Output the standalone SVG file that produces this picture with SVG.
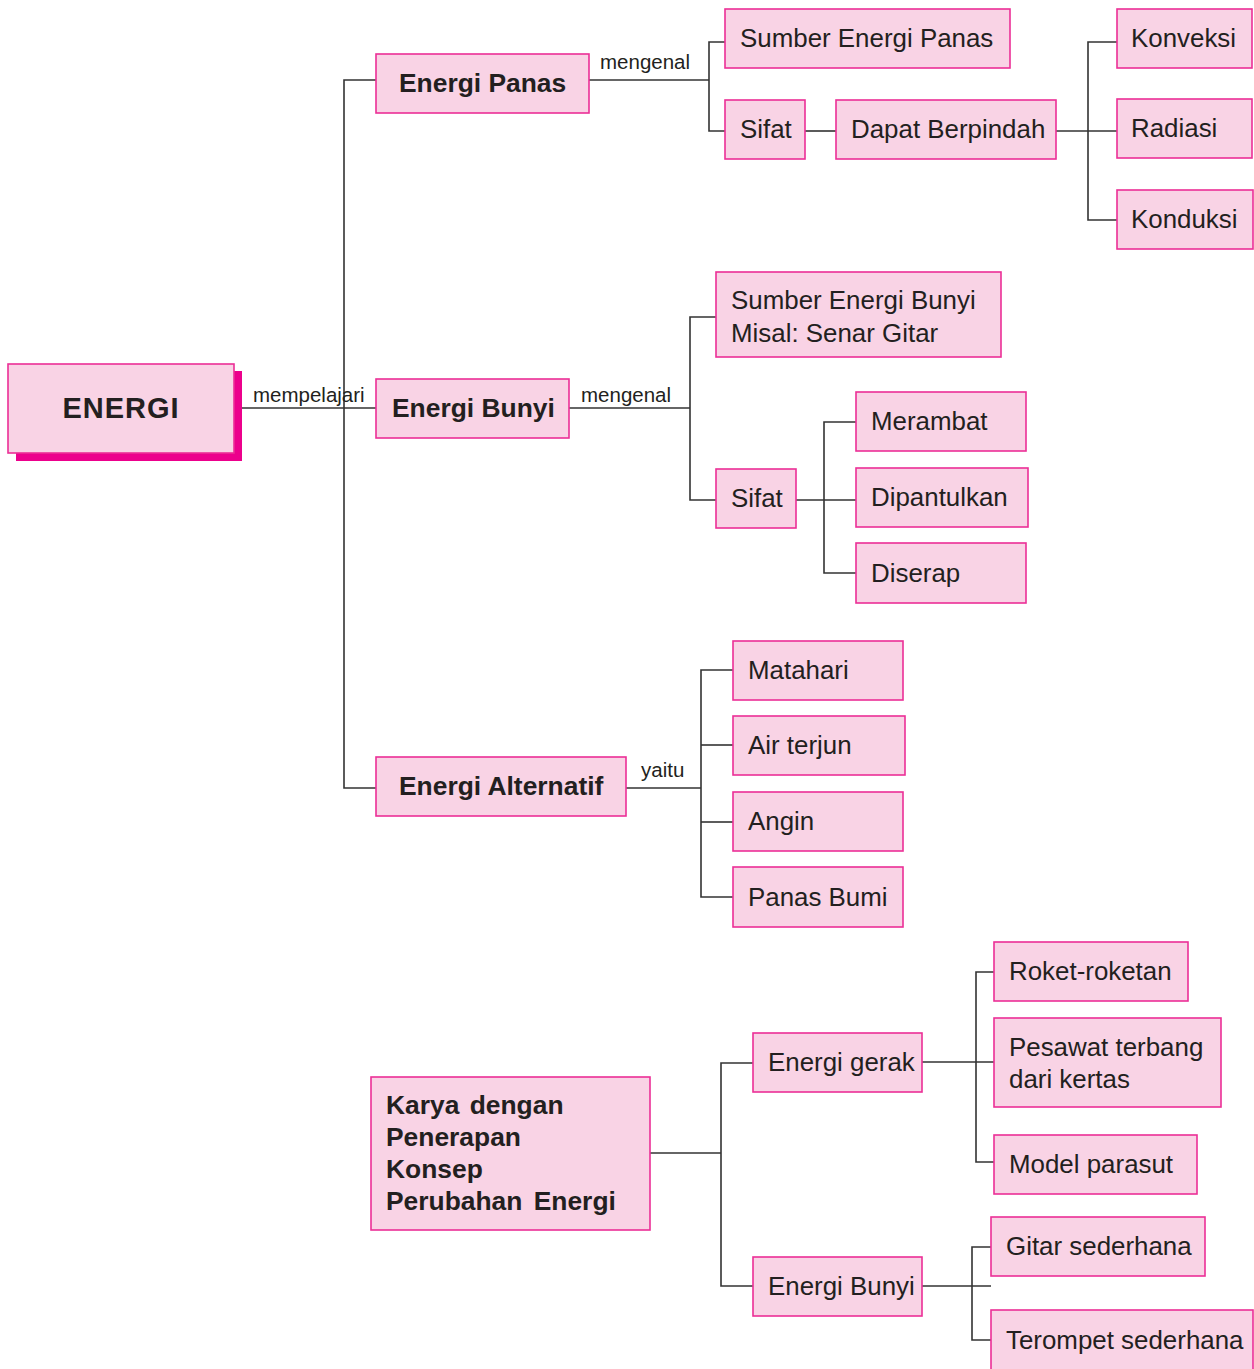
<svg xmlns="http://www.w3.org/2000/svg" width="1254" height="1369" viewBox="0 0 1254 1369">
  <style>
    .box { fill: #f9d3e5; stroke: #ec2f96; stroke-width: 1.6; }
    .shadow { fill: #ec008c; }
    .line { fill: none; stroke: #333333; stroke-width: 1.6; }
    text { font-family: "Liberation Sans", Arial, sans-serif; fill: #231f20; }
    .t { font-size: 25.9px; }
    .b { font-size: 26.4px; font-weight: bold; }
    .lbl { font-size: 20.5px; }
  </style>
  <rect width="1254" height="1369" fill="#ffffff"/>

  <!-- connectors -->
  <g id="connectors" class="line">
    <path d="M242 408 H376"/>
    <path d="M376 80 H344 V788 H376"/>
    <path d="M589 80 H709"/>
    <path d="M725 42 H709 V131 H725"/>
    <path d="M805 131 H836"/>
    <path d="M1056 131 H1117"/>
    <path d="M1117 42 H1088 V220 H1117"/>
    <path d="M569 408 H690"/>
    <path d="M716 317 H690 V500 H716"/>
    <path d="M796 500 H856"/>
    <path d="M856 422 H824 V573 H856"/>
    <path d="M626 788 H701"/>
    <path d="M733 670 H701 V897 H733"/>
    <path d="M701 745 H733"/>
    <path d="M701 822 H733"/>
    <path d="M650 1153 H721"/>
    <path d="M753 1063 H721 V1286 H753"/>
    <path d="M922 1062 H994"/>
    <path d="M994 972 H976 V1162 H994"/>
    <path d="M922 1286 H991"/>
    <path d="M991 1247 H972 V1340 H991"/>
  </g>

  <!-- connector labels -->
  <g id="labels">
    <text class="lbl" x="253" y="402">mempelajari</text>
    <text class="lbl" x="600" y="69">mengenal</text>
    <text class="lbl" x="581" y="402">mengenal</text>
    <text class="lbl" x="641" y="777">yaitu</text>
  </g>

  <!-- root -->
  <g id="energi">
    <rect class="shadow" x="16" y="371" width="226" height="90"/>
    <rect class="box" x="8" y="364" width="226" height="89"/>
    <text x="121" y="418" font-size="29" font-weight="bold" text-anchor="middle" letter-spacing="1">ENERGI</text>
  </g>

  <!-- Energi Panas branch -->
  <g id="energi-panas">
    <rect class="box" x="376" y="54" width="213" height="59"/>
    <text class="b" x="399" y="92">Energi Panas</text>
  </g>
  <g id="sumber-energi-panas">
    <rect class="box" x="725" y="9" width="285" height="59"/>
    <text class="t" x="740" y="47">Sumber Energi Panas</text>
  </g>
  <g id="sifat-panas">
    <rect class="box" x="725" y="100" width="80" height="59"/>
    <text class="t" x="740" y="138">Sifat</text>
  </g>
  <g id="dapat-berpindah">
    <rect class="box" x="836" y="100" width="220" height="59"/>
    <text class="t" x="851" y="138">Dapat Berpindah</text>
  </g>
  <g id="konveksi">
    <rect class="box" x="1117" y="9" width="135" height="59"/>
    <text class="t" x="1131" y="47">Konveksi</text>
  </g>
  <g id="radiasi">
    <rect class="box" x="1117" y="99" width="135" height="59"/>
    <text class="t" x="1131" y="137">Radiasi</text>
  </g>
  <g id="konduksi">
    <rect class="box" x="1117" y="190" width="136" height="59"/>
    <text class="t" x="1131" y="228">Konduksi</text>
  </g>

  <!-- Energi Bunyi branch -->
  <g id="energi-bunyi">
    <rect class="box" x="376" y="379" width="193" height="59"/>
    <text class="b" x="392" y="417">Energi Bunyi</text>
  </g>
  <g id="sumber-energi-bunyi">
    <rect class="box" x="716" y="272" width="285" height="85"/>
    <text class="t" x="731" y="309">Sumber Energi Bunyi</text>
    <text class="t" x="731" y="342">Misal: Senar Gitar</text>
  </g>
  <g id="sifat-bunyi">
    <rect class="box" x="716" y="469" width="80" height="59"/>
    <text class="t" x="731" y="507">Sifat</text>
  </g>
  <g id="merambat">
    <rect class="box" x="856" y="392" width="170" height="59"/>
    <text class="t" x="871" y="430">Merambat</text>
  </g>
  <g id="dipantulkan">
    <rect class="box" x="856" y="468" width="172" height="59"/>
    <text class="t" x="871" y="506">Dipantulkan</text>
  </g>
  <g id="diserap">
    <rect class="box" x="856" y="543" width="170" height="60"/>
    <text class="t" x="871" y="582">Diserap</text>
  </g>

  <!-- Energi Alternatif branch -->
  <g id="energi-alternatif">
    <rect class="box" x="376" y="757" width="250" height="59"/>
    <text class="b" x="399" y="795">Energi Alternatif</text>
  </g>
  <g id="matahari">
    <rect class="box" x="733" y="641" width="170" height="59"/>
    <text class="t" x="748" y="679">Matahari</text>
  </g>
  <g id="air-terjun">
    <rect class="box" x="733" y="716" width="172" height="59"/>
    <text class="t" x="748" y="754">Air terjun</text>
  </g>
  <g id="angin">
    <rect class="box" x="733" y="792" width="170" height="59"/>
    <text class="t" x="748" y="830">Angin</text>
  </g>
  <g id="panas-bumi">
    <rect class="box" x="733" y="867" width="170" height="60"/>
    <text class="t" x="748" y="906">Panas Bumi</text>
  </g>

  <!-- Karya tree -->
  <g id="karya">
    <rect class="box" x="371" y="1077" width="279" height="153"/>
    <text class="b" x="386" y="1114" word-spacing="3">Karya dengan</text>
    <text class="b" x="386" y="1146">Penerapan</text>
    <text class="b" x="386" y="1178">Konsep</text>
    <text class="b" x="386" y="1210" word-spacing="4">Perubahan Energi</text>
  </g>
  <g id="energi-gerak">
    <rect class="box" x="753" y="1033" width="169" height="59"/>
    <text class="t" x="768" y="1071">Energi gerak</text>
  </g>
  <g id="energi-bunyi-karya">
    <rect class="box" x="753" y="1257" width="169" height="59"/>
    <text class="t" x="768" y="1295">Energi Bunyi</text>
  </g>
  <g id="roket-roketan">
    <rect class="box" x="994" y="942" width="194" height="59"/>
    <text class="t" x="1009" y="980">Roket-roketan</text>
  </g>
  <g id="pesawat-terbang">
    <rect class="box" x="994" y="1018" width="227" height="89"/>
    <text class="t" x="1009" y="1056">Pesawat terbang</text>
    <text class="t" x="1009" y="1088">dari kertas</text>
  </g>
  <g id="model-parasut">
    <rect class="box" x="994" y="1135" width="203" height="59"/>
    <text class="t" x="1009" y="1173">Model parasut</text>
  </g>
  <g id="gitar-sederhana">
    <rect class="box" x="991" y="1217" width="214" height="59"/>
    <text class="t" x="1006" y="1255">Gitar sederhana</text>
  </g>
  <g id="terompet-sederhana">
    <rect class="box" x="991" y="1310" width="262" height="64"/>
    <text class="t" x="1006" y="1349">Terompet sederhana</text>
  </g>
</svg>
